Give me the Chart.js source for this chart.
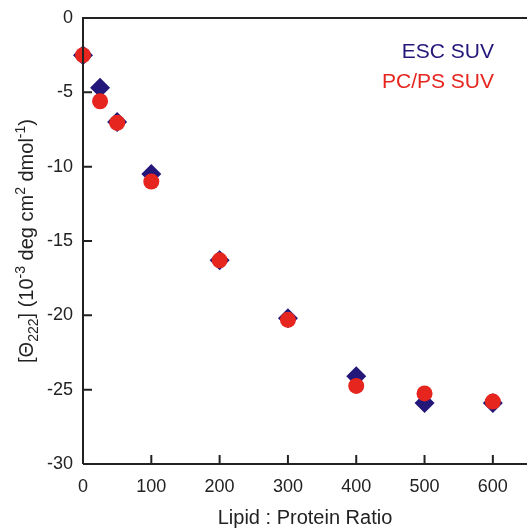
<!DOCTYPE html>
<html>
<head>
<meta charset="utf-8">
<script src="https://cdn.jsdelivr.net/npm/chart.js@4.4.1/dist/chart.umd.min.js"></script>
<style>
  html, body { margin: 0; padding: 0; background: #fff; }
  #wrap { width: 527px; height: 531px; }
</style>
</head>
<body>
<div id="wrap"><canvas id="cdChart" width="527" height="531"></canvas></div>
<script>
// Relación lípido:proteína
const ratios = [0, 25, 50, 100, 200, 300, 400, 500, 600];
// Elipticidad a 222 nm (10^-3 deg cm2 dmol-1)
const escSuv = [-2.5, -4.7, -7.0, -10.5, -16.3, -20.2, -24.1, -25.9, -25.9];
const pcpsSuv = [-2.5, -5.6, -7.05, -11.0, -16.3, -20.3, -24.75, -25.25, -25.8];
const xTicks = [0, 100, 200, 300, 400, 500, 600];
const yTicks = [0, -5, -10, -15, -20, -25, -30];

const navy = '#23177a';
const red = '#e6251e';
const axisColor = '#222';
const FONT = 'Liberation Sans, Arial, sans-serif';

function toPoints(xs, ys) {
    return xs.map((x, i) => ({ x: x, y: ys[i] }));
}

// Ejes: línea superior, ticks hacia adentro, títulos y leyenda de texto
const decorPlugin = {
    id: 'decor',
    afterDraw(chart) {
        const ctx = chart.ctx;
        const a = chart.chartArea;
        const xs = chart.scales.x;
        const ys = chart.scales.y;
        ctx.save();
        ctx.strokeStyle = axisColor;
        ctx.lineWidth = 2;
        ctx.beginPath();
        ctx.moveTo(a.left, a.bottom);
        ctx.lineTo(a.left, a.top);
        ctx.lineTo(a.right, a.top);
        ctx.moveTo(a.left, a.bottom);
        ctx.lineTo(a.right, a.bottom);
        xTicks.forEach(v => {
            const px = xs.getPixelForValue(v);
            ctx.moveTo(px, a.bottom);
            ctx.lineTo(px, a.bottom - 9);
        });
        yTicks.forEach(v => {
            const py = ys.getPixelForValue(v);
            ctx.moveTo(a.left, py);
            ctx.lineTo(a.left + 9, py);
        });
        ctx.stroke();

        // Título eje X
        ctx.fillStyle = '#222';
        ctx.font = '20px ' + FONT;
        ctx.textAlign = 'center';
        ctx.textBaseline = 'middle';
        ctx.fillText('Lipid : Protein Ratio', (a.left + a.right) / 2, 518);

        // Título eje Y con subíndices y superíndices
        const parts = [
            { t: '[\u0398', s: 0 },
            { t: '222', s: -1 },
            { t: '] (10', s: 0 },
            { t: '-3', s: 1 },
            { t: ' deg cm', s: 0 },
            { t: '2', s: 1 },
            { t: ' dmol', s: 0 },
            { t: '-1', s: 1 },
            { t: ')', s: 0 }
        ];
        const big = '20px ' + FONT;
        const small = '14px ' + FONT;
        let total = 0;
        parts.forEach(p => {
            ctx.font = p.s ? small : big;
            p.w = ctx.measureText(p.t).width;
            total += p.w;
        });
        ctx.translate(26, (a.top + a.bottom) / 2);
        ctx.rotate(-Math.PI / 2);
        ctx.textAlign = 'left';
        ctx.textBaseline = 'alphabetic';
        let cx = -total / 2;
        parts.forEach(p => {
            ctx.font = p.s ? small : big;
            const dy = p.s === 1 ? -8 : (p.s === -1 ? 5 : 0);
            ctx.fillText(p.t, cx, 7 + dy);
            cx += p.w;
        });
        ctx.restore();

        // Leyenda solo texto
        ctx.save();
        ctx.font = '21px ' + FONT;
        ctx.textAlign = 'right';
        ctx.textBaseline = 'middle';
        ctx.fillStyle = navy;
        ctx.fillText('ESC SUV', 494, 52);
        ctx.fillStyle = red;
        ctx.fillText('PC/PS SUV', 494, 82);
        ctx.restore();
    }
};

const config = {
    type: 'scatter',
    data: {
        datasets: [
            {
                label: 'ESC SUV',
                data: toPoints(ratios, escSuv),
                pointStyle: 'rectRot',
                pointRadius: 10,
                backgroundColor: navy,
                borderColor: navy,
                borderWidth: 0,
                clip: false,
                order: 2
            },
            {
                label: 'PC/PS SUV',
                data: toPoints(ratios, pcpsSuv),
                pointStyle: 'circle',
                pointRadius: 8,
                backgroundColor: red,
                borderColor: red,
                borderWidth: 0,
                clip: false,
                order: 1
            }
        ]
    },
    options: {
        responsive: false,
        animation: false,
        layout: { autoPadding: false, padding: { top: 18, right: 0, left: 0, bottom: 0 } },
        plugins: {
            legend: { display: false },
            tooltip: { enabled: false }
        },
        scales: {
            x: {
                type: 'linear',
                min: 0,
                max: 650,
                afterBuildTicks: s => { s.ticks = xTicks.map(v => ({ value: v })); },
                afterFit: s => { s.height = 67; s.paddingLeft = 0; s.paddingRight = 0; },
                grid: { display: false, drawTicks: false },
                border: { display: false },
                ticks: {
                    padding: 12,
                    color: '#222',
                    font: { size: 18, family: FONT }
                }
            },
            y: {
                type: 'linear',
                min: -30,
                max: 0,
                afterBuildTicks: s => { s.ticks = yTicks.map(v => ({ value: v })); },
                afterFit: s => { s.width = 83; s.paddingTop = 0; s.paddingBottom = 0; },
                grid: { display: false, drawTicks: false },
                border: { display: false },
                ticks: {
                    padding: 10,
                    color: '#222',
                    font: { size: 18, family: FONT }
                }
            }
        }
    },
    plugins: [decorPlugin]
};

new Chart(document.getElementById('cdChart').getContext('2d'), config);
</script>
</body>
</html>
